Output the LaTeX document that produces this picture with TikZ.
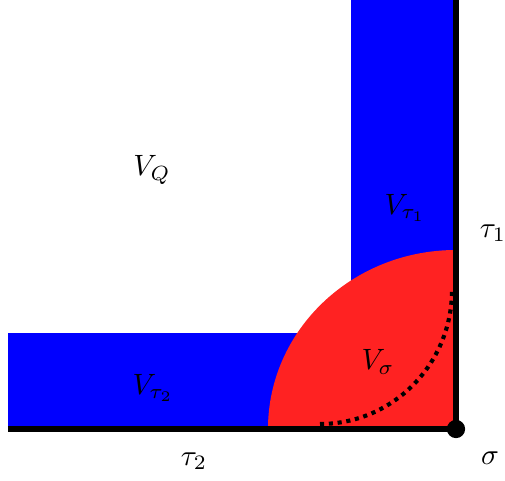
\documentclass[tikz,border=0pt]{standalone}
\usepackage{tikz}
\usetikzlibrary{positioning}
\definecolor{conered}{RGB}{255,34,34}
\definecolor{coneblue}{RGB}{0,0,255}

\begin{document}
\begin{tikzpicture}[x=0.34pt,y=0.34pt,
  strip/.style={fill=coneblue,draw=none},
  edgeline/.style={black,line width=1.8pt},
  dotline/.style={black,line width=1.4pt,dash pattern=on 1.4pt off 1.6pt},
  lab/.style={inner sep=0pt}
]
\useasboundingbox (0,0) rectangle (505,481);
\coordinate (sigma) at (456,52);
\coordinate (t1end) at (456,481);
\coordinate (t2end) at (8,52);
% neighbourhoods
\fill[strip] (351,52) rectangle (456,481);
\fill[strip] (8,52) rectangle (456,148);
\fill[conered] (sigma) -- (268,52) arc[start angle=180,end angle=90,x radius=188,y radius=179] -- cycle;
\draw[dotline] (320,57) arc[start angle=270,end angle=360,x radius=132,y radius=134];
% the cone
\draw[edgeline] (t2end) -- (sigma) -- (t1end);
\fill (sigma) circle[radius=3.1pt];
\node[lab] (vq) at (152,311) {$V_Q$};
\node[lab] (vt1) at (405,273) {$V_{\tau_1}$};
\node[lab] (t1) at (493,248) {$\tau_1$};
\node[lab] (vs) at (378,119) {$V_\sigma$};
\node[lab] (vt2) at (153,93) {$V_{\tau_2}$};
\node[lab] (t2) at (194,20) {$\tau_2$};
\node[lab] (s) at (490,23) {$\sigma$};
\end{tikzpicture}
\end{document}
